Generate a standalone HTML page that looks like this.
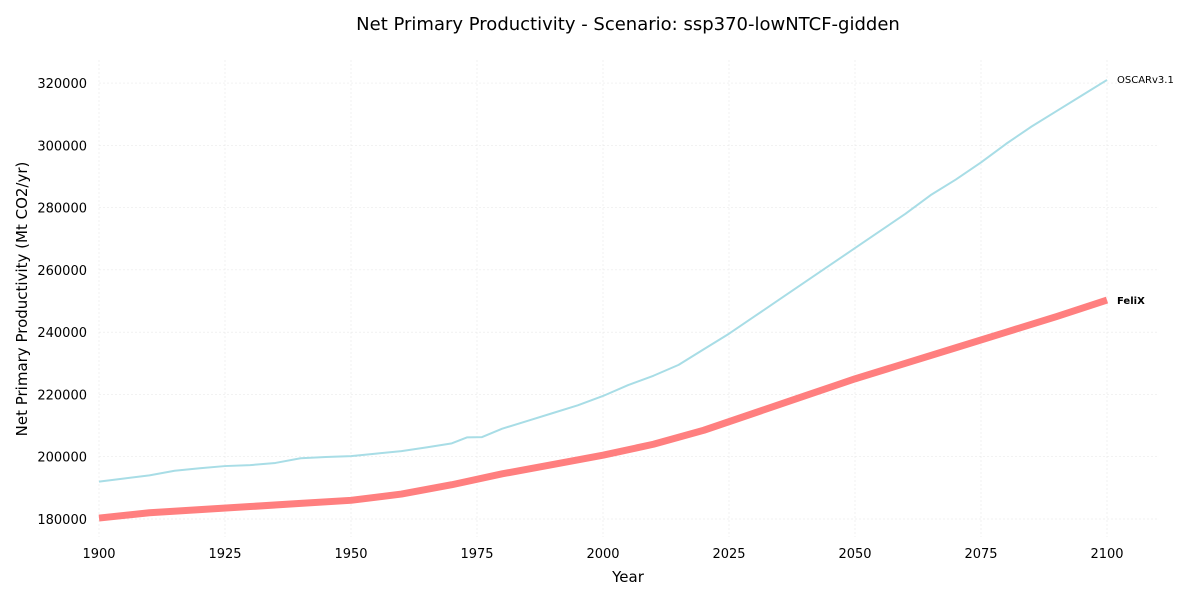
<!DOCTYPE html>
<html><head><meta charset="utf-8"><style>
body{margin:0;background:#fff;font-family:"Liberation Sans","DejaVu Sans",sans-serif}
svg text{font-family:"DejaVu Sans","Liberation Sans",sans-serif}
</style></head><body>
<svg id="chart" width="1200" height="600" xmlns="http://www.w3.org/2000/svg">
<text x="628" y="30" text-anchor="middle" font-size="18" fill="#000">Net Primary Productivity - Scenario: ssp370-lowNTCF-gidden</text>
<g id="grid"></g><g id="axes"></g><g id="series"></g>
<text x="628" y="582" text-anchor="middle" font-size="15">Year</text>
<text transform="translate(27,299) rotate(-90)" text-anchor="middle" font-size="15">Net Primary Productivity (Mt CO2/yr)</text>
</svg>
<script>
const xTicks=[1900,1925,1950,1975,2000,2025,2050,2075,2100];
const yTicks=[180000,200000,220000,240000,260000,280000,300000,320000];
const oscarYears=[1900,1905,1910,1915,1920,1925,1930,1935,1940,1945,1950,1955,1960,1965,1970,1973,1976,1980,1985,1990,1995,2000,2005,2010,2015,2020,2025,2030,2035,2040,2045,2050,2055,2060,2065,2070,2075,2080,2085,2090,2095,2100];
const oscarValues=[192000,193000,194000,195500,196300,197000,197300,198000,199500,199900,200200,201000,201800,203000,204300,206200,206300,209000,211500,214000,216500,219500,223000,226000,229500,234500,239500,245000,250500,256000,261500,267000,272500,278000,284000,289000,294500,300500,306000,311000,316000,321000];
const felixYears=[1900,1910,1920,1930,1940,1950,1960,1970,1980,1990,2000,2010,2020,2030,2040,2050,2060,2070,2080,2090,2100];
const felixValues=[180300,182000,183000,184000,185000,186000,188000,191000,194500,197500,200500,204000,208500,214000,219500,225000,230000,235000,240000,245000,250300];
const NS="http://www.w3.org/2000/svg";
const x=v=>99+(v-1900)*5.04;
const y=v=>519-(v-180000)*0.003114;
function mk(t,a,p){const e=document.createElementNS(NS,t);for(const k in a)e.setAttribute(k,a[k]);p.appendChild(e);return e;}
const grid=document.getElementById('grid'),axes=document.getElementById('axes'),ser=document.getElementById('series');
xTicks.forEach(t=>{
 const l=mk('line',{x1:x(t),x2:x(t),y1:60,y2:537,stroke:'#e4e4e4','stroke-width':0.5,'stroke-dasharray':'2,2'},grid);
 
 
 const tx=mk('text',{x:x(t),y:558,'text-anchor':'middle','font-size':13},axes);tx.textContent=t;
 
 
});
yTicks.forEach(t=>{
 const l=mk('line',{x1:99,x2:1157,y1:y(t),y2:y(t),stroke:'#e4e4e4','stroke-width':0.5,'stroke-dasharray':'2,2'},grid);
 
 
 const tx=mk('text',{x:87,y:y(t)+5,'text-anchor':'end','font-size':13},axes);tx.textContent=t;
 
 
});
const po=mk('polyline',{points:oscarYears.map((v,i)=>x(v)+','+y(oscarValues[i])).join(' '),fill:'none',stroke:'#a8dde6','stroke-width':2,'stroke-linejoin':'round'},ser);


const pf=mk('polyline',{points:felixYears.map((v,i)=>x(v)+','+y(felixValues[i])).join(' '),fill:'none',stroke:'#ff7f7f','stroke-width':7,'stroke-linejoin':'round'},ser);


const lo=mk('text',{x:x(2100)+10,y:y(oscarValues[oscarValues.length-1])+3,'font-size':10},ser);lo.textContent='OSCARv3.1';


const lf=mk('text',{x:x(2100)+10,y:y(felixValues[felixValues.length-1])+4,'font-size':10,'font-weight':'bold'},ser);lf.textContent='FeliX';


</script>
</body></html>
